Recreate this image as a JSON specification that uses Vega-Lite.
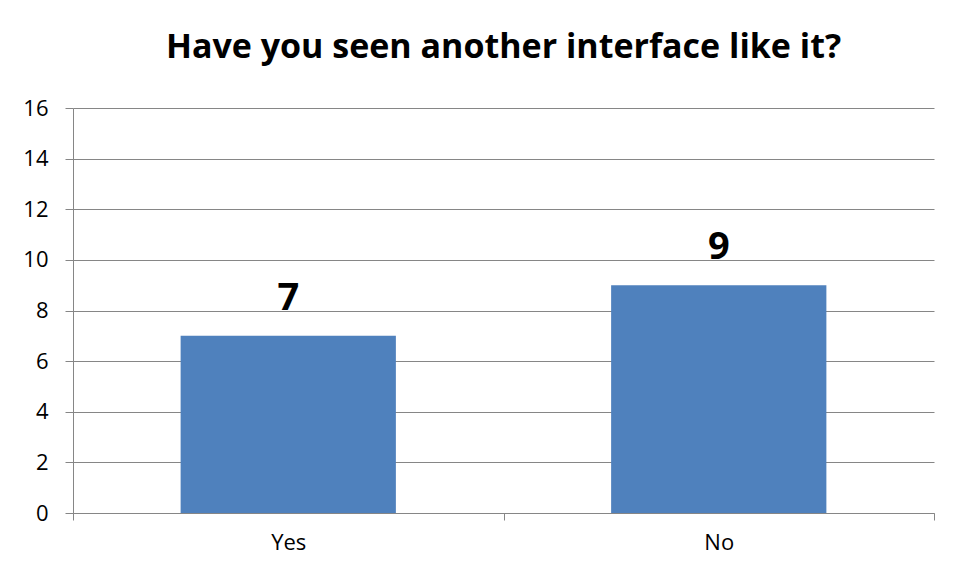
{
  "$schema": "https://vega.github.io/schema/vega-lite/v6.json",
  "autosize": {"type": "none"},
  "padding": {"left": 73, "top": 108, "right": 28, "bottom": 65},
  "width": 861,
  "height": 405,
  "background": "white",
  "title": {
    "text": "Have you seen another interface like it?",
    "fontSize": 34,
    "font": "Open Sans",
    "fontWeight": "bold",
    "color": "black",
    "anchor": "middle",
    "offset": 32
  },
  "data": {"values": [
    {"answer": "Yes", "count": 7},
    {"answer": "No", "count": 9}
  ]},
  "encoding": {
    "x": {
      "field": "answer", "type": "nominal", "sort": ["Yes", "No"], "title": null,
      "scale": {"paddingInner": 0, "paddingOuter": 0},
      "axis": {"labelAngle": 0, "labelFontSize": 22, "labelFont": "Open Sans", "labelColor": "black",
               "tickBand": "extent", "tickColor": "#868686", "tickSize": 7, "domainColor": "#868686",
               "labelPadding": 12, "grid": false}
    },
    "y": {
      "field": "count", "type": "quantitative", "title": null,
      "scale": {"domain": [0, 16]},
      "axis": {"values": [0, 2, 4, 6, 8, 10, 12, 14, 16], "labelFontSize": 22, "labelFont": "Open Sans",
               "labelColor": "black", "tickColor": "#868686", "tickSize": 8, "domainColor": "#868686",
               "gridColor": "#868686", "labelPadding": 17}
    }
  },
  "layer": [
    {"mark": {"type": "bar", "color": "#4F81BD", "width": {"band": 0.5}}},
    {"mark": {"type": "text", "dy": -37, "fontSize": 38, "fontWeight": "bold", "font": "Open Sans", "color": "black"},
     "encoding": {"text": {"field": "count"}}}
  ],
  "config": {"view": {"stroke": null}}
}
